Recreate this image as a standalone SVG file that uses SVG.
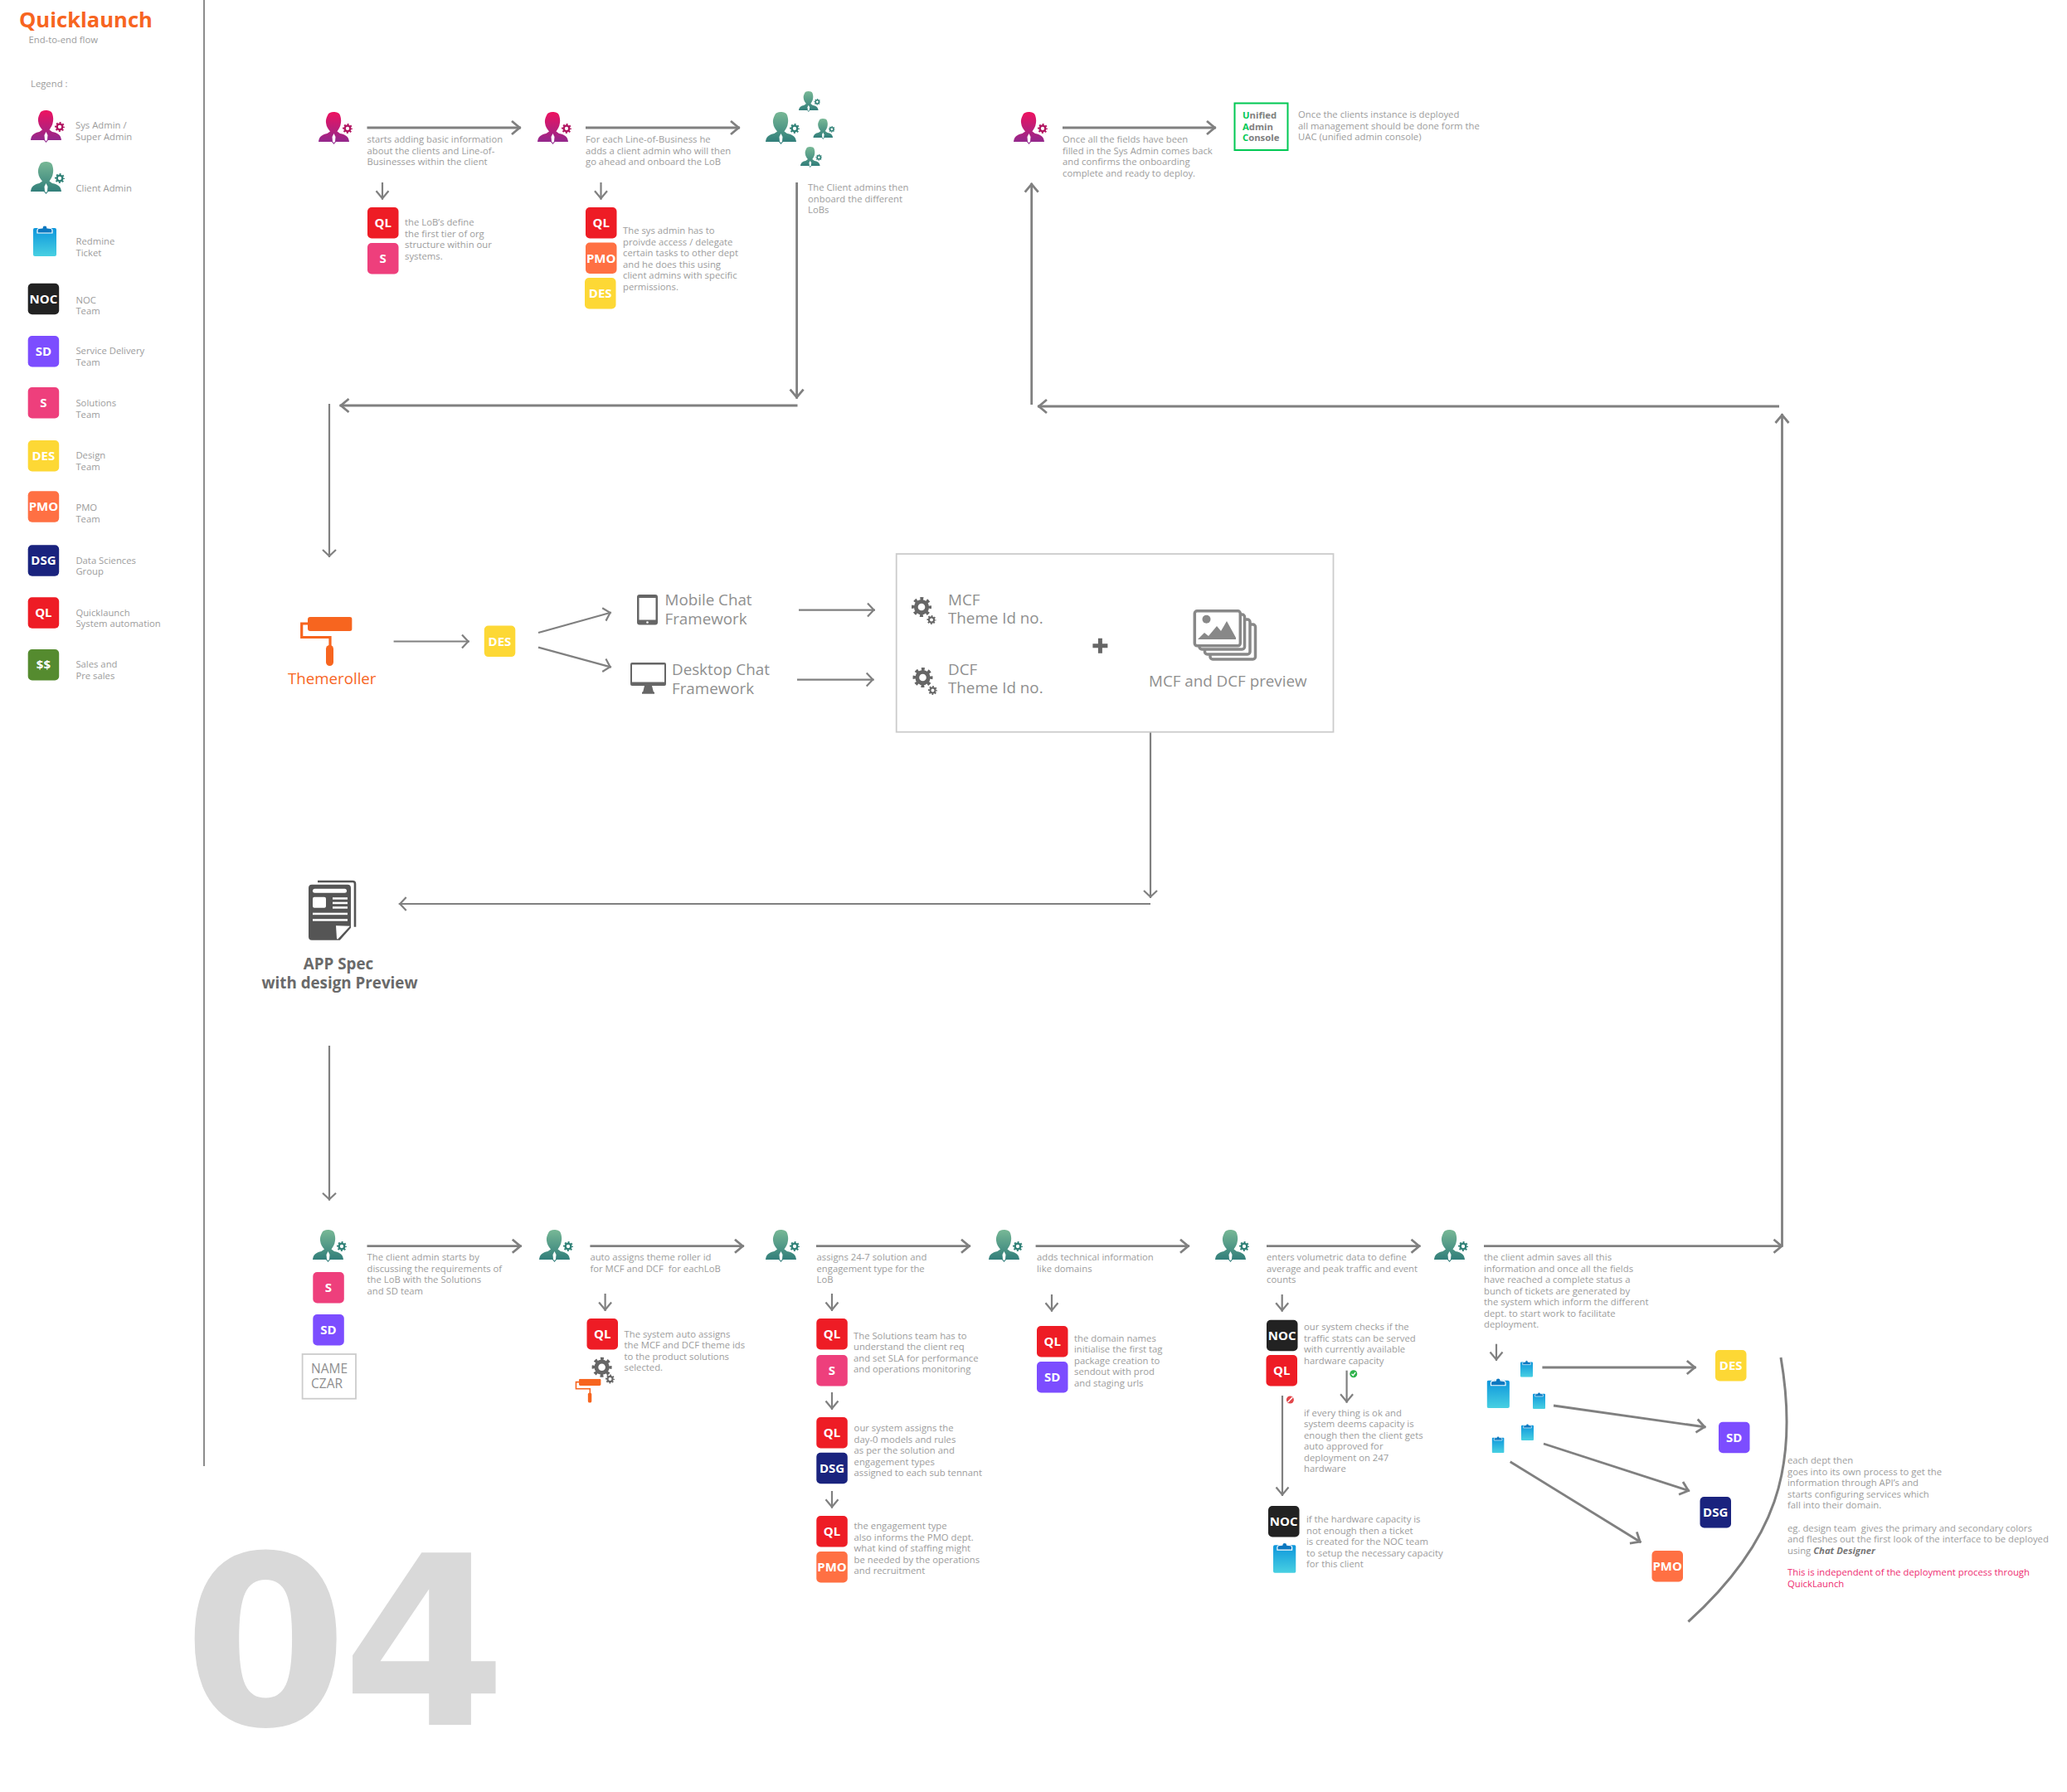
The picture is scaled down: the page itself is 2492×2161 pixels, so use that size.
<svg xmlns="http://www.w3.org/2000/svg" width="2492" height="2161" viewBox="0 0 2492 2161">
<style>
text{font-family:"Open Sans","Noto Sans","Liberation Sans",sans-serif}
.t{font-size:11.3px;fill:#9c9c9c}
.l{font-size:11.3px;fill:#9c9c9c}
.m{font-size:18.8px;fill:#8f8f8f}
.bt{font-size:15px;font-weight:700;fill:#fff;text-anchor:middle}
.ln{fill:none;stroke:#808080;stroke-width:2.8;marker-end:url(#ah)}
.ln2{fill:none;stroke:#808080;stroke-width:2.2;marker-end:url(#ah2)}
.nm{fill:none;stroke:#808080;stroke-width:2.5}
.sm{fill:none;stroke:#808080;stroke-width:2.2;marker-end:url(#ah3)}
.box{fill:#fff;stroke:#cccccc;stroke-width:1.8}
.ql{fill:#ee1c25}.s{fill:#ee3f7c}.sd{fill:#7c4dff}.noc{fill:#222}.des{fill:#fdd835}.pmo{fill:#ff7043}.dsg{fill:#1a237e}.ss{fill:#558b2f}
.d{fill:#666}
</style>
<defs>
<linearGradient id="gs" x1="0" y1="0" x2="0" y2="1"><stop offset="0" stop-color="#ee1260"/><stop offset="1" stop-color="#8b2a90"/></linearGradient>
<linearGradient id="gc" x1="0" y1="0" x2="0" y2="1"><stop offset="0" stop-color="#78b896"/><stop offset="1" stop-color="#2c7a78"/></linearGradient>
<linearGradient id="gt" x1="0" y1="0" x2="0" y2="1"><stop offset="0" stop-color="#0d96dc"/><stop offset="1" stop-color="#48d0e2"/></linearGradient>
<marker id="ah" markerUnits="userSpaceOnUse" viewBox="-13 -11 16 22" refX="1.5" refY="0" markerWidth="16" markerHeight="22" orient="auto"><path d="M-9.5 -8 L0 0 L-9.5 8" fill="none" stroke="#808080" stroke-width="2.8"/></marker>
<marker id="ah2" markerUnits="userSpaceOnUse" viewBox="-13 -11 16 22" refX="1.5" refY="0" markerWidth="16" markerHeight="22" orient="auto"><path d="M-7.5 -8 L0 0 L-7.5 8" fill="none" stroke="#808080" stroke-width="2.2"/></marker>
<marker id="ah3" markerUnits="userSpaceOnUse" viewBox="-13 -11 16 22" refX="1.5" refY="0" markerWidth="16" markerHeight="22" orient="auto"><path d="M-9 -7.5 L0 0 L-9 7.5" fill="none" stroke="#808080" stroke-width="2.2"/></marker>
<symbol id="gear" viewBox="-10 -10 20 20" overflow="visible"><circle r="5.6" fill="none" stroke="currentColor" stroke-width="4"/><circle r="8.4" fill="none" stroke="currentColor" stroke-width="3.2" stroke-dasharray="3.2 3.397" stroke-dashoffset="1.6"/></symbol>
<path id="pb" d="M11 4C12 1 15 0 18 0C22 0 25 1 26 4C27 7 27.5 10 27 13C26.5 18 24 21 22.5 23.5L26 26C33 27.5 36.5 30 37 36L21 36L18.5 39L16 36L0 36C.5 30 4 27.5 10.5 26L14 23.5C12 21 9.5 18 9 13C8.5 10 9.5 7 11 4Z"/>
<symbol id="sys" viewBox="0 0 40 39" overflow="visible"><use href="#pb" fill="url(#gs)"/><path d="M18.5 26L20.5 30L20 35.5L18.5 37.5L17 35.5L16.5 30Z" fill="#fff"/><use href="#gear" x="29" y="14" width="12" height="12" color="#b0125f"/></symbol>
<symbol id="cli" viewBox="0 0 40 39" overflow="visible"><use href="#pb" fill="url(#gc)"/><path d="M18.5 26L20.5 30L20 35.5L18.5 37.5L17 35.5L16.5 30Z" fill="#fff"/><use href="#gear" x="29" y="14" width="12" height="12" color="#2f8076"/></symbol>
<symbol id="tic" viewBox="0 0 28 39"><rect y="5" width="28" height="34" rx="2" fill="url(#gt)"/><path d="M5 7.5C5 5 9 5 11 5C11 1 17 1 17 5C19 5 23 5 23 7.5V11H5Z" fill="#0c78c0" stroke="#fff" stroke-width="1.2"/></symbol>
<symbol id="roller" viewBox="0 0 62.6 59"><rect x="9" width="53.6" height="17" rx="3" fill="#f7651f"/><path d="M9 8H1.7V24.5H36V36" fill="none" stroke="#f7651f" stroke-width="3.2"/><rect x="31" y="34" width="9" height="25" rx="4.5" fill="#f7651f"/></symbol>
</defs>
<rect width="2492" height="2161" fill="#fff"/>
<text id="num" x="221" y="2080" font-size="285" font-weight="700" fill="#d9d9d9" letter-spacing="-7" style="font-family:'DejaVu Sans',sans-serif">04</text>
<g id="connectors">
<path class="nm" style="stroke-width:2;stroke:#8c8c8c" d="M246 0V1768"/>
<path class="ln" d="M442.5 154H628"/>
<path class="ln" d="M706 154H892"/>
<path class="sm" d="M461 220V240.7"/>
<path class="sm" d="M724.5 220V240.7"/>
<path class="ln" d="M960.6 220V480.7"/>
<path class="ln" d="M961.5 489H409.5"/>
<path class="ln2" d="M397 487V672"/>
<path class="ln" d="M1281 154H1466"/>
<path class="ln" d="M1243.7 488V220.7"/>
<path class="ln" d="M2145 490H1251"/>
<path class="ln" d="M2148.500 1502V499"/>
<g transform="translate(0 1)">
<path class="ln2" d="M474.6 772.5H566"/>
<path class="ln2" d="M649 762L737 737.5"/>
<path class="ln2" d="M649 779.6L737 803.6"/>
<path class="ln2" d="M963 734.6H1055"/>
<path class="ln2" d="M961 818.6H1053.7"/>
<path class="ln2" d="M1387 882V1082"/>
<path class="ln2" d="M1387 1089H480.7"/>
<path class="ln2" d="M397 1260V1446.7"/>
<path class="ln" d="M442.5 1501.7H628.8"/>
<path class="ln" d="M711.4 1501.7H897"/>
<path class="ln" d="M984 1501.7H1170"/>
<path class="ln" d="M1248.6 1501.7H1434"/>
<path class="ln" d="M1527 1501.7H1712.5"/>
<path class="ln" d="M1789 1501.7H2149.5"/>
<path class="sm" d="M729.6 1559V1580"/>
<path class="sm" d="M1003 1559V1580"/>
<path class="sm" d="M1003 1678V1699"/>
<path class="sm" d="M1003 1797V1817.7"/>
<path class="sm" d="M1268 1560V1580.7"/>
<path class="sm" d="M1545.7 1560V1580.7"/>
<path class="sm" d="M1623.6 1651.7V1690.7"/>
<path class="sm" d="M1546 1682V1803"/>
<path class="sm" d="M1804 1619.7V1640"/>
<path class="ln" d="M1859.4 1648H2044.8"/>
<path class="ln" d="M1873 1694L2056.5 1720"/>
<path class="ln" d="M1861 1740L2037 1797"/>
<path class="ln" d="M1820.7 1761.7L1978.5 1859"/>
<path class="nm" style="stroke-width:3" d="M2147 1636C2170 1770 2140 1860 2035.4 1954.7"/>
</g>
</g>
<g id="header"><text x="23" y="32.5" font-size="25.6" font-weight="700" fill="#f7651f">Quicklaunch</text><text class="l" x="34.5" y="52">End-to-end flow</text><text class="l" x="37" y="105">Legend :</text></g>
<g id="legend">
<g id="lg-sys"><use href="#sys" x="37" y="133" width="40" height="39"/><text class="l" x="91" y="155">Sys Admin /<tspan x="91" dy="13.7">Super Admin</tspan></text></g>
<g id="lg-cli"><use href="#cli" x="37" y="195" width="40" height="39"/><text class="l" x="91.500" y="231">Client Admin</text></g>
<g id="lg-tic"><use href="#tic" x="40" y="270" width="28" height="39"/><text class="l" x="91.500" y="295">Redmine<tspan x="91.500" dy="13.7">Ticket</tspan></text></g>
<g id="lg-noc" transform="translate(33.7 341.7)"><rect class="noc" width="37.5" height="37.5" rx="5"/><text class="bt" x="18.7" y="24">NOC</text><text class="l" x="57.7" y="24">NOC<tspan x="57.7" dy="13.7">Team</tspan></text></g>
<g id="lg-sd" transform="translate(33.7 405)"><rect class="sd" width="37.5" height="37.5" rx="5"/><text class="bt" x="18.7" y="24">SD</text><text class="l" x="57.7" y="22">Service Delivery<tspan x="57.7" dy="13.7">Team</tspan></text></g>
<g id="lg-s" transform="translate(33.7 467)"><rect class="s" width="37.5" height="37.5" rx="5"/><text class="bt" x="18.7" y="24">S</text><text class="l" x="57.7" y="23">Solutions<tspan x="57.7" dy="13.7">Team</tspan></text></g>
<g id="lg-des" transform="translate(33.7 531)"><rect class="des" width="37.5" height="37.5" rx="5"/><text class="bt" x="18.7" y="24">DES</text><text class="l" x="57.7" y="22">Design<tspan x="57.7" dy="13.7">Team</tspan></text></g>
<g id="lg-pmo" transform="translate(33.7 592.3)"><rect class="pmo" width="37.5" height="37.5" rx="5"/><text class="bt" x="18.7" y="24">PMO</text><text class="l" x="57.7" y="24">PMO<tspan x="57.7" dy="13.7">Team</tspan></text></g>
<g id="lg-dsg" transform="translate(33.7 657.3)"><rect class="dsg" width="37.5" height="37.5" rx="5"/><text class="bt" x="18.7" y="24">DSG</text><text class="l" x="57.7" y="22.500">Data Sciences<tspan x="57.7" dy="13.7">Group</tspan></text></g>
<g id="lg-ql" transform="translate(33.7 720.3)"><rect class="ql" width="37.5" height="37.5" rx="5"/><text class="bt" x="18.7" y="24">QL</text><text class="l" x="57.7" y="22.500">Quicklaunch<tspan x="57.7" dy="13.7">System automation</tspan></text></g>
<g id="lg-ss" transform="translate(33.7 783)"><rect class="ss" width="37.5" height="37.5" rx="5"/><text class="bt" x="18.7" y="24">$$</text><text class="l" x="57.7" y="22">Sales and<tspan x="57.7" dy="13.7">Pre sales</tspan></text></g>
</g>
<g id="step1"><use href="#sys" x="384" y="135" width="40" height="39"/><text class="t" x="442.5" y="172">starts adding basic information<tspan x="442.5" dy="13.5">about the clients and Line-of-</tspan><tspan x="442.5" dy="13.5">Businesses within the client</tspan></text>
<g transform="translate(443 250)"><rect class="ql" width="37.5" height="37.5" rx="5"/><text class="bt" x="18.7" y="24">QL</text></g>
<g transform="translate(443 293)"><rect class="s" width="37.5" height="37.5" rx="5"/><text class="bt" x="18.7" y="24">S</text></g>
<text class="t" x="488" y="272">the LoB’s define<tspan x="488" dy="13.7">the first tier of org</tspan><tspan x="488" dy="13.5">structure within our</tspan><tspan x="488" dy="13.7">systems.</tspan></text></g>
<g id="step2"><use href="#sys" x="648" y="135" width="40" height="39"/><text class="t" x="706" y="172">For each Line-of-Business he<tspan x="706" dy="13.5">adds a client admin who will then</tspan><tspan x="706" dy="13.5">go ahead and onboard the LoB</tspan></text>
<g transform="translate(706 250)"><rect class="ql" width="37.5" height="37.5" rx="5"/><text class="bt" x="18.7" y="24">QL</text></g>
<g transform="translate(706 292.5)"><rect class="pmo" width="37.5" height="37.5" rx="5"/><text class="bt" x="18.7" y="24">PMO</text></g>
<g transform="translate(705 335)"><rect class="des" width="37.5" height="37.5" rx="5"/><text class="bt" x="18.7" y="24">DES</text></g>
<text class="t" x="751" y="282">The sys admin has to<tspan x="751" dy="13.5">proivde access / delegate</tspan><tspan x="751" dy="13.5">certain tasks to other dept</tspan><tspan x="751" dy="13.5">and he does this using</tspan><tspan x="751" dy="13.5">client admins with specific</tspan><tspan x="751" dy="13.5">permissions.</tspan></text></g>
<g id="step3"><use href="#cli" x="923" y="135" width="40" height="39"/><use href="#cli" x="963" y="110" width="25.5" height="25"/><use href="#cli" x="980.5" y="143" width="25.5" height="25"/><use href="#cli" x="965" y="177" width="25.5" height="25"/><text class="t" x="974" y="230">The Client admins then<tspan x="974" dy="13.7">onboard the different</tspan><tspan x="974" dy="13.5">LoBs</tspan></text></g>
<g id="step4"><use href="#sys" x="1222" y="135" width="40" height="39"/><text class="t" x="1281" y="172">Once all the fields have been<tspan x="1281" dy="13.7">filled in the Sys Admin comes back</tspan><tspan x="1281" dy="13.5">and confirms the onboarding</tspan><tspan x="1281" dy="13.7">complete and ready to deploy.</tspan></text></g>
<g id="uac"><rect x="1488.5" y="124.5" width="64" height="56.500" fill="#fff" stroke="#00c853" stroke-width="2"/><text x="1498" y="143" font-size="11.3" font-weight="700" fill="#808080"><tspan fill="#00c853">U</tspan>nified<tspan x="1498" dy="13.700" fill="#00c853">A</tspan>dmin<tspan x="1498" dy="13.500" fill="#00c853">C</tspan>onsole</text><text class="t" x="1565" y="142">Once the clients instance is deployed<tspan x="1565" dy="13.700">all management should be done form the</tspan><tspan x="1565" dy="13.500">UAC (unified admin console)</tspan></text></g>
<g id="middle-and-bottom" transform="translate(0 1)">
<g id="themeroller"><use href="#roller" x="362" y="743" width="62.6" height="59"/><text x="347" y="824" font-size="18.700" fill="#f7651f">Themeroller</text></g>
<g id="des-mid" transform="translate(583.800 753.600)"><rect class="des" width="37.500" height="37.500" rx="5"/><text class="bt" x="18.700" y="24">DES</text></g>
<g id="mobile"><rect x="768" y="716" width="25" height="36.500" rx="3" fill="#666"/><rect x="770.500" y="720" width="20" height="26.500" fill="#fff"/><circle cx="780.500" cy="749.500" r="1.300" fill="#fff"/><text class="m" x="801.500" y="729">Mobile Chat<tspan x="801.500" dy="22.500">Framework</tspan></text></g>
<g id="desktop"><rect x="760" y="798" width="43" height="28" rx="2" fill="#666"/><rect x="762" y="800.500" width="39" height="21" fill="#fff"/><path d="M777 826H786L788 834H775Z" fill="#666"/><rect x="774" y="833.500" width="15" height="2.200" fill="#666"/><text class="m" x="810" y="813">Desktop Chat<tspan x="810" dy="22.500">Framework</tspan></text></g>
<g id="preview-box"><rect class="box" x="1080.700" y="667" width="526.800" height="214.700"/>
<g color="#666"><use href="#gear" x="1099" y="719" width="24" height="24"/><use href="#gear" x="1117.500" y="741" width="11" height="11"/><use href="#gear" x="1100.500" y="804" width="24" height="24"/><use href="#gear" x="1119" y="826" width="11" height="11"/></g>
<text class="m" x="1143" y="729">MCF<tspan x="1143" dy="22">Theme Id no.</tspan></text><text class="m" x="1143" y="812.700">DCF<tspan x="1143" dy="22.300">Theme Id no.</tspan></text>
<path d="M1317.400 777.700H1335.400M1326.400 768.700V786.700" stroke="#666" stroke-width="5" fill="none"/>
<g fill="#fff" stroke="#888" stroke-width="3.500"><rect x="1459" y="752" width="54.500" height="42" rx="3"/><rect x="1452.500" y="746" width="54.500" height="42" rx="3"/><rect x="1446" y="740" width="54.500" height="42" rx="3"/><rect x="1440.300" y="735.800" width="55" height="42" rx="3"/></g><circle cx="1454.500" cy="745.700" r="5" fill="#888"/><path d="M1444 770L1452 762L1457 766L1467 754L1472 760L1479 748L1490 768V770Z" fill="#888"/>
<text class="m" x="1385" y="826.700">MCF and DCF preview</text></g>
<g id="app-spec" transform="translate(372 1060.700)"><path d="M11 1.300H53Q56 1.300 56 4V56" fill="none" stroke="#555" stroke-width="2.600"/><rect y="5" width="51" height="67" rx="4" fill="#555"/><g fill="#fff"><rect x="5" y="10" width="41" height="5" rx="2.500"/><rect x="5" y="20" width="16" height="13" rx="2"/><rect x="29" y="20.500" width="18" height="2.500"/><rect x="29" y="26" width="18" height="2.500"/><rect x="29" y="31.500" width="18" height="2.500"/><rect x="5" y="39" width="42" height="2.500"/><rect x="5" y="46.500" width="42" height="2.500"/><path d="M52 56V73H37Z"/><path d="M33 54.500L50 55L35 71L34 70Z"/></g></g>
<text id="app-spec-label" font-size="18.800" font-weight="700" fill="#6a6a6a" text-anchor="middle" x="408" y="1168">APP Spec<tspan x="409.500" dy="22.700">with design Preview</tspan></text>
<g id="r1"><use href="#cli" x="377" y="1482" width="40" height="39"/><text class="t" x="442.5" y="1519">The client admin starts by<tspan x="442.5" dy="13.700">discussing the requirements of</tspan><tspan x="442.5" dy="13.500">the LoB with the Solutions</tspan><tspan x="442.5" dy="13.700">and SD team</tspan></text>
<g transform="translate(377.300 1533)"><rect class="s" width="37.500" height="37.500" rx="5"/><text class="bt" x="18.700" y="24">S</text></g>
<g transform="translate(377.300 1584)"><rect class="sd" width="37.500" height="37.500" rx="5"/><text class="bt" x="18.700" y="24">SD</text></g>
<rect class="box" x="364.600" y="1632" width="64.400" height="53.700"/><text x="375" y="1655" font-size="15.500" fill="#8f8f8f">NAME<tspan x="375" dy="17.700">CZAR</tspan></text></g>
<g id="r2"><use href="#cli" x="650" y="1482" width="40" height="39"/><text class="t" x="711.400" y="1519">auto assigns theme roller id<tspan x="711.400" dy="13.700" xml:space="preserve">for MCF and DCF  for eachLoB</tspan></text>
<g transform="translate(707.500 1589)"><rect class="ql" width="37.500" height="37.500" rx="5"/><text class="bt" x="18.700" y="24">QL</text></g>
<g color="#666"><use href="#gear" x="713.600" y="1635.700" width="24" height="24"/><use href="#gear" x="730" y="1656.500" width="11" height="11"/></g><use href="#roller" x="693" y="1661.700" width="32" height="29"/>
<text class="t" x="752.500" y="1611.700">The system auto assigns<tspan x="752.500" dy="13.500">the MCF and DCF theme ids</tspan><tspan x="752.500" dy="13.500">to the product solutions</tspan><tspan x="752.500" dy="13.500">selected.</tspan></text></g>
<g id="r3"><use href="#cli" x="923" y="1482" width="40" height="39"/><text class="t" x="984.500" y="1519">assigns 24-7 solution and<tspan x="984.500" dy="13.700">engagement type for the</tspan><tspan x="984.500" dy="13.500">LoB</tspan></text>
<g transform="translate(984.300 1589)"><rect class="ql" width="37.500" height="37.500" rx="5"/><text class="bt" x="18.700" y="24">QL</text></g>
<g transform="translate(984.300 1633)"><rect class="s" width="37.500" height="37.500" rx="5"/><text class="bt" x="18.700" y="24">S</text></g>
<text class="t" x="1029" y="1613.700">The Solutions team has to<tspan x="1029" dy="13.500">understand the client req</tspan><tspan x="1029" dy="13.500">and set SLA for performance</tspan><tspan x="1029" dy="13.500">and operations monitoring</tspan></text>
<g transform="translate(984.300 1708)"><rect class="ql" width="37.500" height="37.500" rx="5"/><text class="bt" x="18.700" y="24">QL</text></g>
<g transform="translate(984.300 1750.700)"><rect class="dsg" width="37.500" height="37.500" rx="5"/><text class="bt" x="18.700" y="24">DSG</text></g>
<text class="t" x="1029.600" y="1725">our system assigns the<tspan x="1029.600" dy="13.500">day-0 models and rules</tspan><tspan x="1029.600" dy="13.500">as per the solution and</tspan><tspan x="1029.600" dy="13.500">engagement types</tspan><tspan x="1029.600" dy="13.500">assigned to each sub tennant</tspan></text>
<g transform="translate(984.300 1827)"><rect class="ql" width="37.500" height="37.500" rx="5"/><text class="bt" x="18.700" y="24">QL</text></g>
<g transform="translate(984.300 1870)"><rect class="pmo" width="37.500" height="37.500" rx="5"/><text class="bt" x="18.700" y="24">PMO</text></g>
<text class="t" x="1029.600" y="1843">the engagement type<tspan x="1029.600" dy="13.500">also informs the PMO dept.</tspan><tspan x="1029.600" dy="13.500">what kind of staffing might</tspan><tspan x="1029.600" dy="13.500">be needed by the operations</tspan><tspan x="1029.600" dy="13.500">and recruitment</tspan></text></g>
<g id="r4"><use href="#cli" x="1192" y="1482" width="40" height="39"/><text class="t" x="1250" y="1519">adds technical information<tspan x="1250" dy="13.700">like domains</tspan></text>
<g transform="translate(1250 1598)"><rect class="ql" width="37.500" height="37.500" rx="5"/><text class="bt" x="18.700" y="24">QL</text></g>
<g transform="translate(1250 1641)"><rect class="sd" width="37.500" height="37.500" rx="5"/><text class="bt" x="18.700" y="24">SD</text></g>
<text class="t" x="1295" y="1616.700">the domain names<tspan x="1295" dy="13.500">initialise the first tag</tspan><tspan x="1295" dy="13.500">package creation to</tspan><tspan x="1295" dy="13.500">sendout with prod</tspan><tspan x="1295" dy="13.500">and staging urls</tspan></text></g>
<g id="r5"><use href="#cli" x="1465" y="1482" width="40" height="39"/><text class="t" x="1527" y="1519">enters volumetric data to define<tspan x="1527" dy="13.700">average and peak traffic and event</tspan><tspan x="1527" dy="13.500">counts</tspan></text>
<g transform="translate(1527 1590.700)"><rect class="noc" width="37.500" height="37.500" rx="5"/><text class="bt" x="18.700" y="24">NOC</text></g>
<g transform="translate(1526.500 1633)"><rect class="ql" width="37.500" height="37.500" rx="5"/><text class="bt" x="18.700" y="24">QL</text></g>
<text class="t" x="1572" y="1603">our system checks if the<tspan x="1572" dy="13.500">traffic stats can be served</tspan><tspan x="1572" dy="13.500">with currently available</tspan><tspan x="1572" dy="13.500">hardware capacity</tspan></text>
<circle cx="1631.800" cy="1655.700" r="4.500" fill="#2eb24b"/><path d="M1629.500 1655.700L1631.300 1657.700L1634.200 1653.800" fill="none" stroke="#fff" stroke-width="1.300"/>
<circle cx="1555.400" cy="1687" r="4.500" fill="#e2474b"/><path d="M1552.500 1690L1558.300 1684" stroke="#fff" stroke-width="1.500"/>
<text class="t" x="1572" y="1706.700">if every thing is ok and<tspan x="1572" dy="13.500">system deems capacity is</tspan><tspan x="1572" dy="13.500">enough then the client gets</tspan><tspan x="1572" dy="13.500">auto approved for</tspan><tspan x="1572" dy="13.500">deployment on 247</tspan><tspan x="1572" dy="13.500">hardware</tspan></text>
<g transform="translate(1529 1815)"><rect class="noc" width="37.500" height="37.500" rx="5"/><text class="bt" x="18.700" y="24">NOC</text></g>
<use href="#tic" x="1535" y="1857" width="27.500" height="39"/>
<text class="t" x="1575" y="1835">if the hardware capacity is<tspan x="1575" dy="13.500">not enough then a ticket</tspan><tspan x="1575" dy="13.500">is created for the NOC team</tspan><tspan x="1575" dy="13.500">to setup the necessary capacity</tspan><tspan x="1575" dy="13.500">for this client</tspan></text></g>
<g id="r6"><use href="#cli" x="1729" y="1482" width="40" height="39"/><text class="t" x="1789" y="1519">the client admin saves all this<tspan x="1789" dy="13.500">information and once all the fields</tspan><tspan x="1789" dy="13.500">have reached a complete status a</tspan><tspan x="1789" dy="13.500">bunch of tickets are generated by</tspan><tspan x="1789" dy="13.500">the system which inform the different</tspan><tspan x="1789" dy="13.500">dept. to start work to facilitate</tspan><tspan x="1789" dy="13.500">deployment.</tspan></text>
<use href="#tic" x="1792.500" y="1659" width="27.500" height="38"/><use href="#tic" x="1833" y="1638.700" width="15" height="21"/><use href="#tic" x="1848" y="1677" width="15" height="21"/><use href="#tic" x="1834" y="1715" width="15" height="21"/><use href="#tic" x="1798.600" y="1730" width="15" height="21"/></g>
<g id="d-des" transform="translate(2068 1627)"><rect class="des" width="37.500" height="37.500" rx="5"/><text class="bt" x="18.700" y="24">DES</text></g>
<g id="d-sd" transform="translate(2072 1713.700)"><rect class="sd" width="37.500" height="37.500" rx="5"/><text class="bt" x="18.700" y="24">SD</text></g>
<g id="d-dsg" transform="translate(2049.500 1804)"><rect class="dsg" width="37.500" height="37.500" rx="5"/><text class="bt" x="18.700" y="24">DSG</text></g>
<g id="d-pmo" transform="translate(1991.500 1869)"><rect class="pmo" width="37.500" height="37.500" rx="5"/><text class="bt" x="18.700" y="24">PMO</text></g>
<g id="notes"><text class="t" x="2155" y="1764">each dept then<tspan x="2155" dy="13.700">goes into its own process to get the</tspan><tspan x="2155" dy="13.500">information through API’s and</tspan><tspan x="2155" dy="13.500">starts configuring services which</tspan><tspan x="2155" dy="13.500">fall into their domain.</tspan></text>
<text class="t" x="2155" y="1845.700" xml:space="preserve">eg. design team  gives the primary and secondary colors<tspan x="2155" dy="13.500">and fleshes out the first look of the interface to be deployed</tspan><tspan x="2155" dy="13.500">using <tspan font-weight="700" font-style="italic" fill="#777">Chat Designer</tspan></tspan></text>
<text class="t" style="fill:#ee2a6f" x="2155" y="1899">This is independent of the deployment process through<tspan x="2155" dy="13.700">QuickLaunch</tspan></text></g>
</g>
</svg>
